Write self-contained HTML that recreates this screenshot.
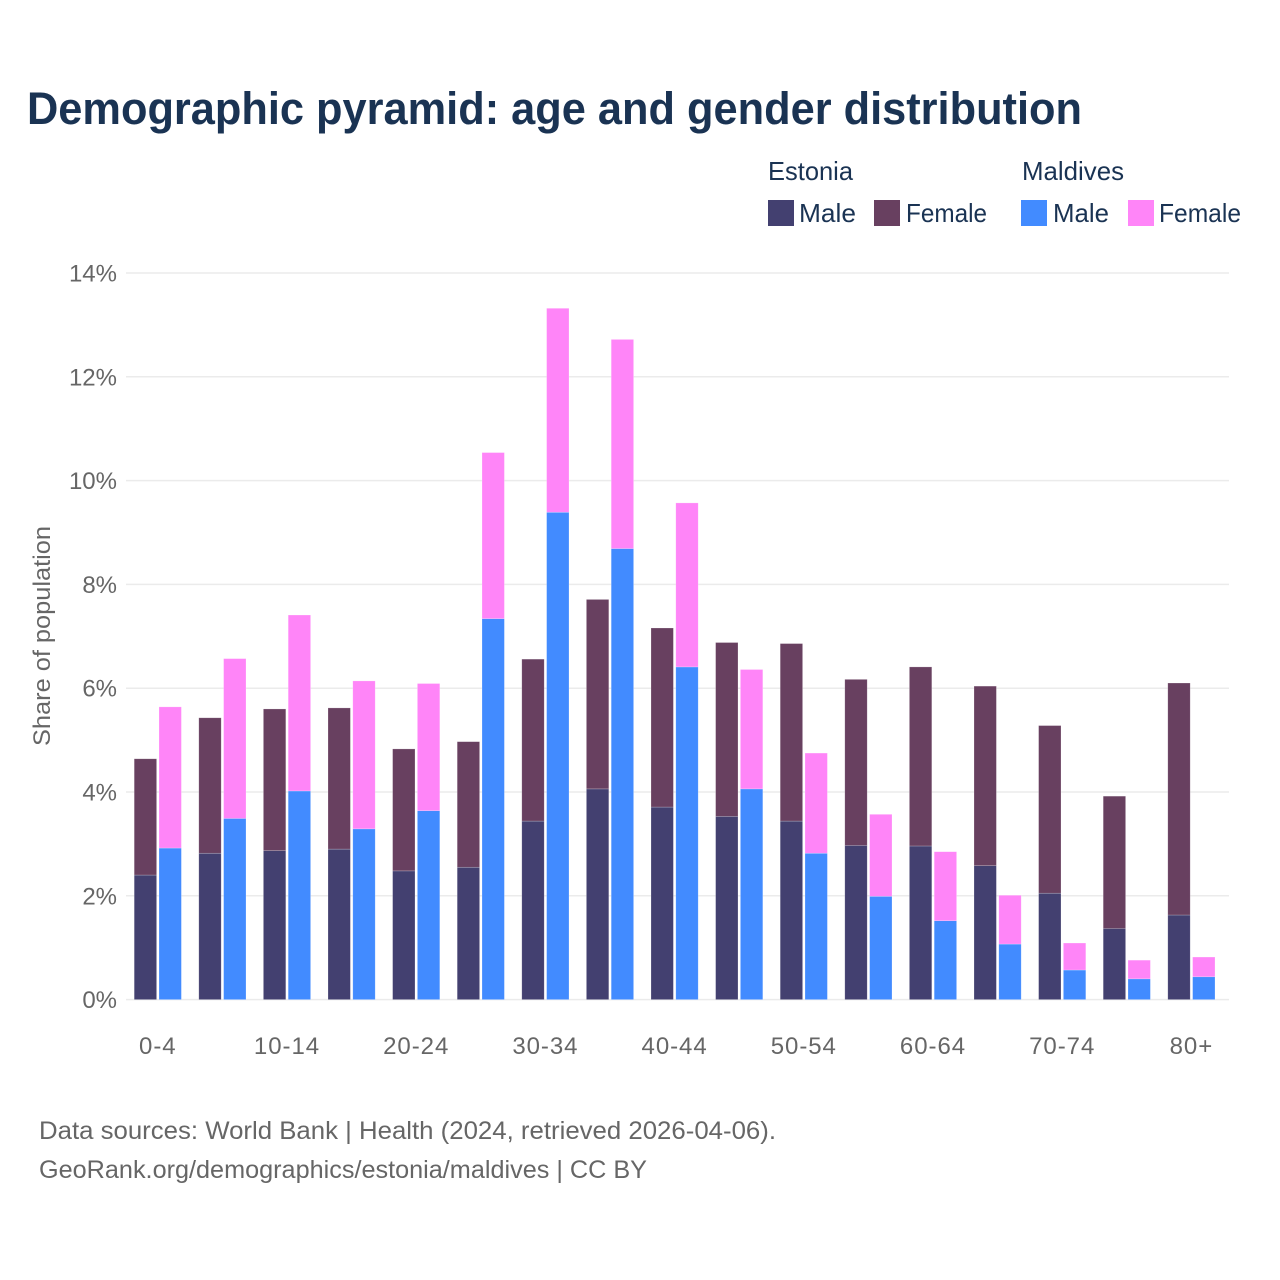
<!DOCTYPE html>
<html lang="en">
<head>
<meta charset="utf-8">
<title>Demographic pyramid: age and gender distribution</title>
<style>
html,body{margin:0;padding:0;background:#fff;width:1280px;height:1280px;overflow:hidden}
svg{display:block}
text{font-family:"Liberation Sans",sans-serif}
.tick{font-size:24px;fill:#666}
.tick-x{letter-spacing:.95px}
.legend{font-size:26px;fill:#1a3353}
.foot{font-size:25px;fill:#666}
</style>
</head>
<body>
<svg id="chart" xmlns="http://www.w3.org/2000/svg" width="1280" height="1280" viewBox="0 0 1280 1280">
  <rect x="0" y="0" width="1280" height="1280" fill="#fff"/>
  <text x="27" y="124" font-size="45" font-weight="700" fill="#1a3353" textLength="1055" lengthAdjust="spacingAndGlyphs">Demographic pyramid: age and gender distribution</text>

  <text class="legend" x="768" y="180" textLength="85" lengthAdjust="spacingAndGlyphs">Estonia</text>
  <text class="legend" x="1022" y="180" textLength="102" lengthAdjust="spacingAndGlyphs">Maldives</text>

  <rect x="768" y="200" width="26" height="26" fill="#434070"/>
  <text class="legend" x="799" y="222" textLength="57" lengthAdjust="spacingAndGlyphs">Male</text>
  <rect x="874" y="200" width="26" height="26" fill="#684060"/>
  <text class="legend" x="906" y="222" textLength="81" lengthAdjust="spacingAndGlyphs">Female</text>
  <rect x="1021" y="200" width="26" height="26" fill="#428bff"/>
  <text class="legend" x="1053" y="222" textLength="56" lengthAdjust="spacingAndGlyphs">Male</text>
  <rect x="1128" y="200" width="26" height="26" fill="#ff85f8"/>
  <text class="legend" x="1159" y="222" textLength="82" lengthAdjust="spacingAndGlyphs">Female</text>

  <g id="grid"></g>
  <g id="bars"></g>
  <g id="yticks"></g>
  <g id="xticks"></g>

  <text x="0" y="0" transform="translate(50,746) rotate(-90)" font-size="24" fill="#666" textLength="220" lengthAdjust="spacingAndGlyphs">Share of population</text>

  <text class="foot" x="39" y="1139" textLength="737" lengthAdjust="spacingAndGlyphs">Data sources: World Bank | Health (2024, retrieved 2026-04-06).</text>
  <text class="foot" x="39" y="1178" textLength="608" lengthAdjust="spacingAndGlyphs">GeoRank.org/demographics/estonia/maldives | CC BY</text>
</svg>
<script>
const categories = ["0-4","5-9","10-14","15-19","20-24","25-29","30-34","35-39","40-44","45-49","50-54","55-59","60-64","65-69","70-74","75-79","80+"];
const xTickLabels = ["0-4","10-14","20-24","30-34","40-44","50-54","60-64","70-74","80+"];
const yTickValues = [0,2,4,6,8,10,12,14];
const estoniaMale = [2.40,2.82,2.87,2.90,2.48,2.55,3.44,4.06,3.71,3.53,3.44,2.97,2.96,2.58,2.05,1.37,1.63];
const estoniaFemale = [2.24,2.61,2.73,2.72,2.35,2.42,3.12,3.65,3.45,3.35,3.42,3.20,3.45,3.46,3.23,2.55,4.47];
const maldivesMale = [2.92,3.49,4.02,3.29,3.64,7.34,9.39,8.69,6.41,4.06,2.82,1.99,1.52,1.07,0.57,0.40,0.44];
const maldivesFemale = [2.72,3.08,3.39,2.85,2.45,3.20,3.93,4.03,3.16,2.30,1.93,1.58,1.33,0.94,0.52,0.36,0.38];

const NS = "http://www.w3.org/2000/svg";
const plot = {left: 126, right: 1229, zeroY: 999.6, perUnit: 51.9, firstCenter: 157.8, step: 64.6, barW: 22.4, gap: 2.4};
const yScale = v => plot.zeroY - v * plot.perUnit;
const xCenter = i => plot.firstCenter + i * plot.step;

const grid = document.getElementById("grid");
const yticks = document.getElementById("yticks");
yTickValues.forEach(v => {
  const line = document.createElementNS(NS, "line");
  
  
  line.setAttribute("x1", plot.left);
  line.setAttribute("x2", plot.right);
  line.setAttribute("y1", yScale(v));
  line.setAttribute("y2", yScale(v));
  line.setAttribute("stroke", "#ebebeb");
  line.setAttribute("stroke-width", "1.5");
  grid.appendChild(line);
  const t = document.createElementNS(NS, "text");
  
  
  t.setAttribute("class", "tick");
  t.setAttribute("x", 117);
  t.setAttribute("y", yScale(v) + 8.5);
  t.setAttribute("text-anchor", "end");
  t.textContent = v + "%";
  yticks.appendChild(t);
});

const bars = document.getElementById("bars");
function addBar(x, v0, v1, fill, name) {
  const r = document.createElementNS(NS, "rect");
  
  
  r.setAttribute("x", x);
  r.setAttribute("width", plot.barW);
  r.setAttribute("y", yScale(v1));
  r.setAttribute("height", yScale(v0) - yScale(v1));
  r.setAttribute("fill", fill);
  r.setAttribute("stroke", "#fff");
  r.setAttribute("stroke-opacity", "0.35");
  r.setAttribute("stroke-width", "0.6");
  bars.appendChild(r);
}
categories.forEach((c, i) => {
  const cx = xCenter(i);
  const xE = cx - plot.gap / 2 - plot.barW;
  const xM = cx + plot.gap / 2;
  addBar(xE, 0, estoniaMale[i], "#434070", "bar-estonia-male");
  addBar(xE, estoniaMale[i], estoniaMale[i] + estoniaFemale[i], "#684060", "bar-estonia-female");
  addBar(xM, 0, maldivesMale[i], "#428bff", "bar-maldives-male");
  addBar(xM, maldivesMale[i], maldivesMale[i] + maldivesFemale[i], "#ff85f8", "bar-maldives-female");
});

const xticks = document.getElementById("xticks");
xTickLabels.forEach(label => {
  const i = categories.indexOf(label);
  const t = document.createElementNS(NS, "text");
  
  
  t.setAttribute("class", "tick tick-x");
  t.setAttribute("x", xCenter(i));
  t.setAttribute("y", 1054);
  t.setAttribute("text-anchor", "middle");
  t.textContent = label;
  xticks.appendChild(t);
});
</script>
</body>
</html>
